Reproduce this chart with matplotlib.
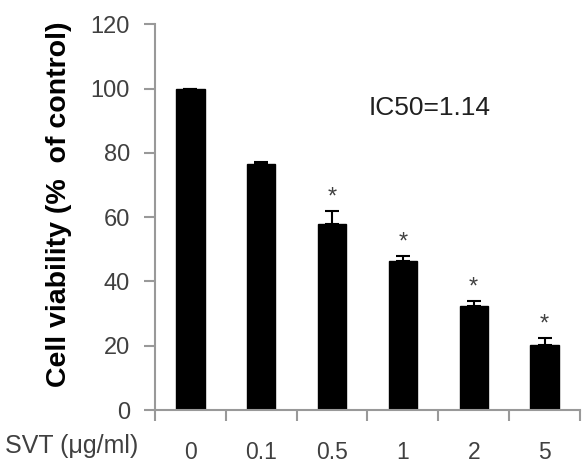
import numpy as np
import matplotlib.pyplot as plt

plt.rcParams['font.family'] = ['Liberation Sans', 'DejaVu Sans']

doses = ['0', '0.1', '0.5', '1', '2', '5']
viability = [100, 76.4, 58.0, 46.4, 32.3, 20.1]
err_up = [0, 0.9, 3.9, 1.5, 1.6, 2.3]
significant = [False, False, True, True, True, True]
ic50 = 1.14

fig = plt.figure(figsize=(5.87, 4.66), dpi=100)
ax = fig.add_axes([0.264, 0.120, 0.724, 0.828])

x = np.arange(len(doses))
ax.bar(x, viability, width=0.4, color='black', edgecolor='black')
ax.errorbar(x, viability, yerr=[np.zeros(len(doses)), err_up], fmt='none',
            ecolor='black', elinewidth=1.5, capsize=5, capthick=1.5)

for xi, v, e, s in zip(x, viability, err_up, significant):
    if s:
        ax.text(xi, v + e + 0.8, '*', ha='center', va='bottom',
                fontsize=17, color='#404040')

ax.text(3.38, 93.8, 'IC50=%.2f' % ic50, ha='center', va='center',
        fontsize=19, color='#202020')

ax.set_xlim(-0.5, 5.5)
ax.set_ylim(0, 120)
ax.set_yticks(np.arange(0, 121, 20))
ax.set_xticks(x)
ax.set_xticklabels(doses)
ax.set_xticks(np.arange(-0.5, 5.6, 1), minor=True)
ax.tick_params(axis='x', which='major', length=0, pad=22,
               labelsize=16.5, labelcolor='#404040')
ax.tick_params(axis='x', which='minor', length=8, width=1.5, color='#999999')
ax.tick_params(axis='y', length=8, width=1.5, color='#999999', pad=10,
               labelsize=17, labelcolor='#404040')

for side in ('top', 'right'):
    ax.spines[side].set_visible(False)
for side in ('left', 'bottom'):
    ax.spines[side].set_color('#999999')
    ax.spines[side].set_linewidth(1.5)

ax.set_ylabel('Cell viability (%  of control)', fontsize=20.5, fontweight='bold',
              va='center')
ax.yaxis.set_label_coords(-0.226, 0.534)
ax.set_xlabel('SVT (\u03bcg/ml)', fontsize=18, color='#404040', ha='right', va='center')
ax.xaxis.set_label_coords(-0.04, -0.093)

fig.savefig('out.png', dpi=100)
